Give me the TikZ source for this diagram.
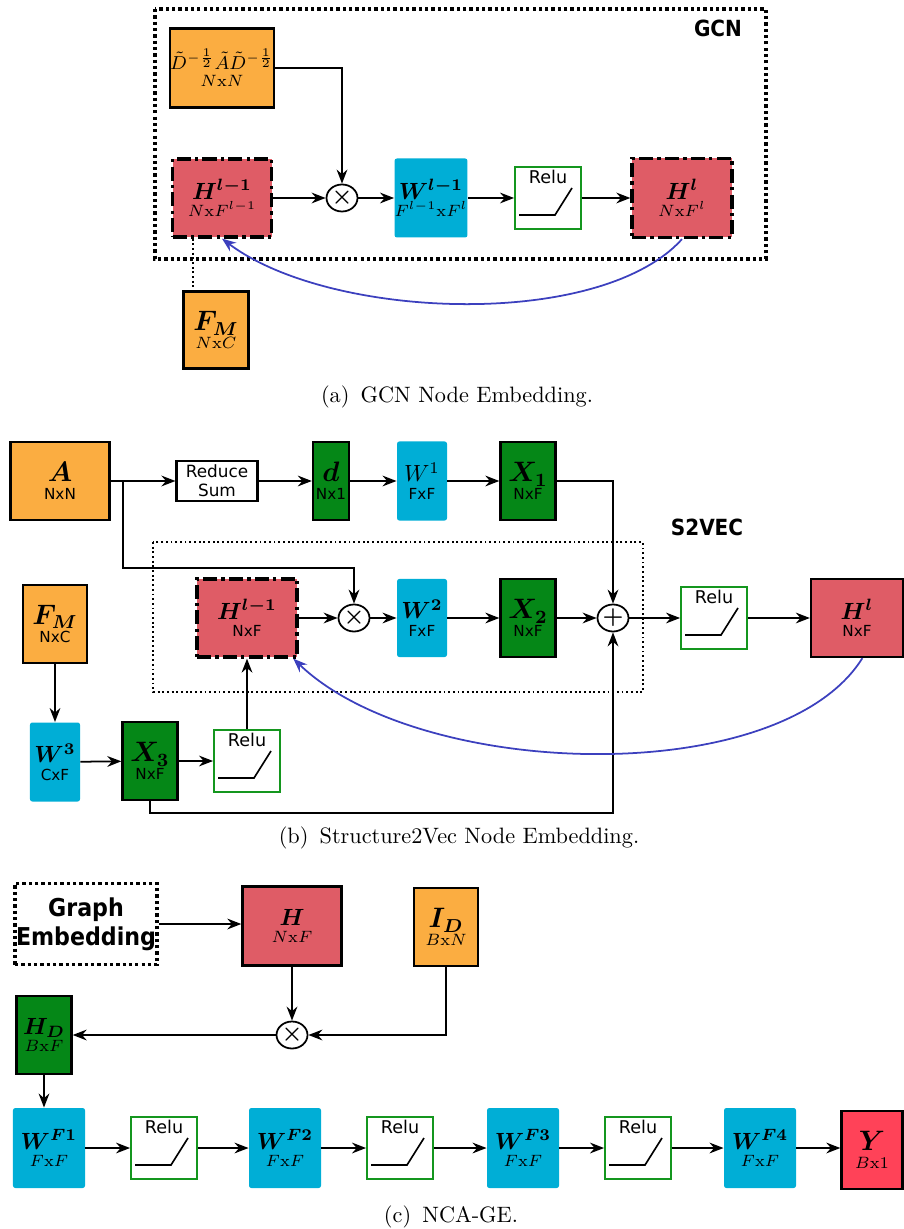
\documentclass[tikz,border=0pt]{standalone}
\usepackage{amsmath}
\usepackage{bm}
\usepackage{fontspec}
\usetikzlibrary{arrows.meta, shapes.geometric}
\newfontfamily\dvsans{DejaVu Sans}
\newfontfamily\condbold{DejaVu Sans Condensed Bold}
\newcommand{\sansub}{\dvsans\fontsize{6.5}{7.5}\selectfont}
\newcommand{\relufont}{\dvsans\fontsize{7.5}{8}\selectfont}
\definecolor{inputorange}{RGB}{251, 173, 65}
\definecolor{layerred}{RGB}{223, 92, 102}
\definecolor{weightcyan}{RGB}{0, 174, 214}
\definecolor{featgreen}{RGB}{5, 135, 23}
\definecolor{relugreen}{RGB}{20, 150, 30}
\definecolor{outred}{RGB}{255, 66, 88}
\definecolor{loopblue}{RGB}{60, 64, 190}

\begin{document}
\begin{tikzpicture}[
        x=0.015cm, y=-0.015cm,
        box/.style={rectangle, inner sep=0pt, align=center, font=\fontsize{7}{7.5}\selectfont},
        inputbox/.style={box, draw=black, line width=1pt, fill=inputorange},
        layerbox/.style={box, draw=black, line width=1.4pt, dash pattern=on 6pt off 1.8pt on 1.4pt off 1.8pt, fill=layerred},
        outbox/.style={box, draw=black, line width=1pt, fill=layerred},
        weightbox/.style={box, fill=weightcyan, rounded corners=1pt},
        featbox/.style={box, draw=black, line width=1pt, fill=featgreen},
        relubox/.style={box, draw=relugreen, line width=0.8pt, fill=white, minimum width=0.99cm, minimum height=0.93cm, label={[anchor=north, yshift=-1.5pt, inner sep=0pt, font=\relufont]north:Relu}},
        sumbox/.style={box, draw=black, line width=0.9pt, fill=white, minimum width=1.215cm, minimum height=0.6cm, font=\dvsans\fontsize{7.2}{8}\selectfont},
        opnode/.style={ellipse, draw=black, line width=0.75pt, fill=white, minimum width=0.465cm, minimum height=0.405cm, inner sep=0pt},
        flow/.style={line width=0.75pt, -{Stealth[length=6pt, width=4.6pt, inset=2pt]}},
        loopflow/.style={flow, draw=loopblue},
        reluline/.style={line width=0.7pt},
        heavydots/.style={line width=1.5pt, dash pattern=on 1.4pt off 1.3pt},
        lightdots/.style={line width=0.8pt, dash pattern=on 0.8pt off 1.2pt},
        tag/.style={font=\condbold\fontsize{9.5}{10}\selectfont},
        caption/.style={font=\fontsize{9.5}{11}\selectfont}
    ]
    \useasboundingbox (0,0) rectangle (903,1229);

    % (a) GCN
    \draw[heavydots] (155,9) rectangle (766,259);
    \node[tag] (gcntag) at (718,28) {GCN};

    \node[inputbox, minimum width=1.485cm, minimum height=1.185cm] (dad) at (222,68) {{\fontsize{7.8}{8.5}\selectfont$\tilde{D}^{-\frac{1}{2}}\tilde{A}\tilde{D}^{-\frac{1}{2}}$}\\ $N\mathrm{x}N$};
    \node[layerbox, minimum width=1.485cm, minimum height=1.17cm] (hprev) at (222,198) {{\normalsize$\bm{H^{l-1}}$}\\ $N\mathrm{x}F^{l-1}$};
    \node[opnode] (mula) at (342,198) {$\bm{\times}$};
    \node[weightbox, minimum width=1.08cm, minimum height=1.185cm] (wa) at (431,198) {{\normalsize$\bm{W^{l-1}}$}\\ $F^{l-1}\mathrm{x}F^{l}$};
    \node[relubox] (relua) at (548,198) {};
    \node[layerbox, minimum width=1.5cm, minimum height=1.185cm] (hla) at (682,198) {{\normalsize$\bm{H^{l}}$}\\ $N\mathrm{x}F^{l}$};
    \node[inputbox, minimum width=0.975cm, minimum height=1.155cm] (fma) at (216,330) {{\large$\bm{F_M}$}\\ $N\mathrm{x}C$};
    \draw[reluline] ([shift={(-29,17)}]relua.center) -- ++(36,0) -- ++(17,-27);

    \draw[flow] (dad.east) -| (mula.north);
    \draw[flow] (hprev) -- (mula);
    \draw[flow] (mula) -- (wa);
    \draw[flow] (wa) -- (relua);
    \draw[flow] (relua) -- (hla);
    \draw[lightdots] ([xshift=-0.435cm]hprev.south) -- ([xshift=-0.435cm]hprev.south |- fma.north);
    \draw[loopflow] (hla.south) .. controls (600,330) and (330,320) .. (hprev.south);

    \node[caption] (capa) at (457,397) {(a)\enspace GCN Node Embedding.};

    % (b) Structure2Vec
    \node[inputbox, minimum width=1.485cm, minimum height=1.17cm] (adj) at (60,481) {{\large$\bm{A}$}\\ {\sansub NxN}};
    \node[sumbox] (rsum) at (217,481) {Reduce\\Sum};
    \node[featbox, minimum width=0.54cm, minimum height=1.17cm] (deg) at (331,481) {{\large$\bm{d}$}\\ {\sansub Nx1}};
    \node[weightbox, minimum width=0.75cm, minimum height=1.185cm] (wone) at (422,481) {{\normalsize$W^{1}$}\\ {\sansub FxF}};
    \node[featbox, minimum width=0.825cm, minimum height=1.17cm] (xone) at (528,481) {{\large$\bm{X_1}$}\\ {\sansub NxF}};
    \coordinate (branch) at (123,481);
    \coordinate (branchlow) at (123,568);

    \draw[lightdots] (153,542) rectangle (643,692);
    \node[tag] (s2vtag) at (707,527) {S2VEC};

    \node[layerbox, minimum width=1.5cm, minimum height=1.17cm] (hprevb) at (247,618) {{\normalsize$\bm{H^{l-1}}$}\\ {\sansub NxF}};
    \node[opnode] (mulb) at (354,618) {$\bm{\times}$};
    \node[weightbox, minimum width=0.75cm, minimum height=1.17cm] (wtwo) at (422,618) {{\normalsize$\bm{W^{2}}$}\\ {\sansub FxF}};
    \node[featbox, minimum width=0.825cm, minimum height=1.17cm] (xtwo) at (528,618) {{\large$\bm{X_2}$}\\ {\sansub NxF}};
    \node[opnode] (addb) at (613,618) {$\bm{+}$};
    \node[relubox] (relub) at (714,618) {};
    \node[outbox, minimum width=1.38cm, minimum height=1.17cm] (hlb) at (857,618) {{\normalsize$\bm{H^{l}}$}\\ {\sansub NxF}};

    \node[inputbox, minimum width=0.96cm, minimum height=1.17cm] (fmb) at (55,624) {{\large$\bm{F_M}$}\\ {\sansub NxC}};
    \node[weightbox, minimum width=0.75cm, minimum height=1.185cm] (wthree) at (55,762) {{\normalsize$\bm{W^{3}}$}\\ {\sansub CxF}};
    \node[featbox, minimum width=0.825cm, minimum height=1.17cm] (xthree) at (150,761) {{\large$\bm{X_3}$}\\ {\sansub NxF}};
    \node[relubox] (reluc) at (247,761) {};
    \draw[reluline] ([shift={(-29,17)}]relub.center) -- ++(36,0) -- ++(17,-27);
    \draw[reluline] ([shift={(-29,17)}]reluc.center) -- ++(36,0) -- ++(17,-27);

    \draw[flow] (adj) -- (rsum);
    \draw[flow] (rsum) -- (deg);
    \draw[flow] (deg) -- (wone);
    \draw[flow] (wone) -- (xone);
    \draw[flow] (branch) -- (branchlow) -| (mulb.north);
    \draw[flow] (xone.east) -| (addb.north);
    \draw[flow] (hprevb) -- (mulb);
    \draw[flow] (mulb) -- (wtwo);
    \draw[flow] (wtwo) -- (xtwo);
    \draw[flow] (xtwo) -- (addb);
    \draw[flow] (addb) -- (relub);
    \draw[flow] (relub) -- (hlb);
    \draw[flow] (fmb) -- (wthree);
    \draw[flow] (wthree) -- (xthree);
    \draw[flow] (xthree) -- (reluc);
    \draw[flow] (reluc.north) -- (hprevb.south);
    \draw[flow] (xthree.south) -- ++(0,12) -| (addb.south);
    \draw[loopflow] ([xshift=0.08cm]hlb.south) .. controls (780,790) and (420,780) .. ([xshift=-0.08cm]hprevb.south east);

    \node[caption] (capb) at (459,838) {(b)\enspace Structure2Vec Node Embedding.};

    % (c) NCA-GE
    \node[box, draw=black, heavydots, minimum width=2.13cm, minimum height=1.215cm, font=\condbold\fontsize{10.5}{12.5}\selectfont] (gemb) at (86,924) {Graph\\Embedding};
    \node[outbox, minimum width=1.485cm, minimum height=1.185cm] (hemb) at (292,926) {{\normalsize$\bm{H}$}\\ $N\mathrm{x}F$};
    \node[inputbox, minimum width=0.96cm, minimum height=1.17cm] (idx) at (446,927) {{\large$\bm{I_D}$}\\ $B\mathrm{x}N$};
    \node[opnode] (mulc) at (292,1035) {$\bm{\times}$};
    \node[featbox, minimum width=0.825cm, minimum height=1.17cm] (hd) at (44,1035) {{\normalsize$\bm{H_D}$}\\ $B\mathrm{x}F$};

    \node[weightbox, minimum width=1.08cm, minimum height=1.2cm] (wfone) at (49,1148) {{\normalsize$\bm{W^{F1}}$}\\ $F\mathrm{x}F$};
    \node[relubox] (relufone) at (164,1148) {};
    \node[weightbox, minimum width=1.08cm, minimum height=1.2cm] (wftwo) at (285,1148) {{\normalsize$\bm{W^{F2}}$}\\ $F\mathrm{x}F$};
    \node[relubox] (reluftwo) at (400,1148) {};
    \node[weightbox, minimum width=1.08cm, minimum height=1.2cm] (wfthree) at (523,1148) {{\normalsize$\bm{W^{F3}}$}\\ $F\mathrm{x}F$};
    \node[relubox] (relufthree) at (638,1148) {};
    \node[weightbox, minimum width=1.08cm, minimum height=1.2cm] (wffour) at (760,1148) {{\normalsize$\bm{W^{F4}}$}\\ $F\mathrm{x}F$};
    \node[box, draw=black, line width=1pt, fill=outred, minimum width=0.915cm, minimum height=1.17cm] (yout) at (872,1150) {{\large$\bm{Y}$}\\ $B\mathrm{x}1$};
    \draw[reluline] ([shift={(-29,17)}]relufone.center) -- ++(36,0) -- ++(17,-27);
    \draw[reluline] ([shift={(-29,17)}]reluftwo.center) -- ++(36,0) -- ++(17,-27);
    \draw[reluline] ([shift={(-29,17)}]relufthree.center) -- ++(36,0) -- ++(17,-27);

    \draw[flow] (gemb) -- (gemb -| hemb.west);
    \draw[flow] (hemb) -- (mulc);
    \draw[flow] (idx.south) |- (mulc.east);
    \draw[flow] (mulc) -- (hd);
    \draw[flow] (hd.south) -- (hd.south |- wfone.north);
    \draw[flow] (wfone) -- (relufone);
    \draw[flow] (relufone) -- (wftwo);
    \draw[flow] (wftwo) -- (reluftwo);
    \draw[flow] (reluftwo) -- (wfthree);
    \draw[flow] (wfthree) -- (relufthree);
    \draw[flow] (relufthree) -- (wffour);
    \draw[flow] (wffour) -- (yout.west |- wffour);

    \node[caption] (capc) at (451,1217) {(c)\enspace NCA-GE.};

\end{tikzpicture}
\end{document}
